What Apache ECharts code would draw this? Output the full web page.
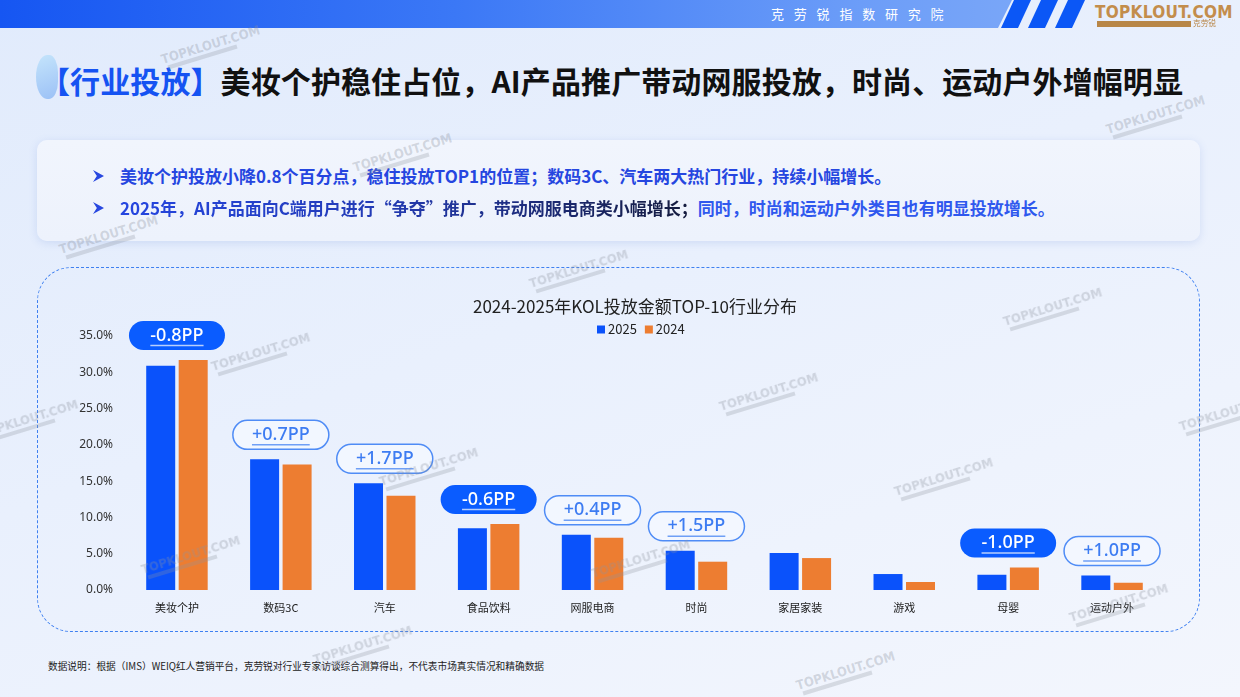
<!DOCTYPE html>
<html>
<head>
<meta charset="utf-8">
<script src="https://cdn.jsdelivr.net/npm/echarts@6/dist/echarts.min.js"></script>
<style>
  html,body{margin:0;padding:0;}
  body{width:1240px;height:697px;overflow:hidden;position:relative;
    background:linear-gradient(160deg,#e1ebfc 0%,#e9f0fd 45%,#f3f6fd 100%);
    font-family:"Noto Sans CJK SC","Noto Sans",sans-serif;}
  .hdr{position:absolute;left:0;top:0;width:1012px;height:28px;
    background:linear-gradient(90deg,#1656f2 0%,#3b78f6 45%,#6c9df8 85%,#79a6f8 100%);
    clip-path:polygon(0 0,1012px 0,998px 28px,0 28px);}
  .stripe{position:absolute;top:0;height:28px;width:30px;background:#0b57f6;
    clip-path:polygon(13px 0,30px 0,17px 28px,0 28px);}
  .hdrtxt{position:absolute;left:771px;top:5px;font-size:13px;letter-spacing:9.8px;color:#fff;line-height:18px;}
  .logo{position:absolute;left:1095px;top:2px;font-family:"DejaVu Sans Condensed","Liberation Sans Narrow",sans-serif;
    font-weight:bold;font-size:17px;color:#c38d4c;letter-spacing:0.3px;line-height:20px;}
  .logobar{position:absolute;left:1097px;top:21px;width:94px;height:6px;background:#b88647;}
  .logosub{position:absolute;left:1193px;top:19px;font-size:9px;color:#b88647;line-height:10px;transform:scale(0.85);transform-origin:left top;}
  .title{position:absolute;left:40px;top:58px;font-size:30px;font-weight:bold;color:#111;line-height:44px;white-space:nowrap;letter-spacing:0.1px;}
  .title .b{color:#1553f2;}
  .blob{position:absolute;left:36px;top:55px;width:22px;height:44px;border-radius:50% 40% 40% 50%;
    background:linear-gradient(160deg,#bfe3fb,#8fb9f5);opacity:0.85;}
  .box{position:absolute;left:37px;top:140px;width:1163px;height:101px;border-radius:10px;
    background:linear-gradient(180deg,#f1f5fd,#edf2fc);box-shadow:0 2px 8px rgba(90,130,210,0.18);}
  .bl{position:absolute;left:120px;font-size:17px;font-weight:bold;line-height:24px;white-space:nowrap;color:#2546e0;}
  .arr{position:absolute;left:93px;width:11px;height:12px;background:#2848e0;
    clip-path:polygon(0 0,100% 50%,0 100%,35% 50%);}
  .dark{background:linear-gradient(90deg,#2546e0 0%,#233bb5 45%,#141a3a 100%);-webkit-background-clip:text;background-clip:text;color:transparent;}
  .brt{color:#2f58ee;}
  .dash{position:absolute;left:37px;top:267px;width:1161px;height:363px;border:1.5px dashed #3f80f1;border-radius:34px;}
  #chart{position:absolute;left:37px;top:267px;width:1163px;height:365px;}
  .foot{position:absolute;left:48px;top:659px;font-size:9.7px;color:#222;line-height:14px;white-space:nowrap;}
  .wm{position:absolute;font-family:"DejaVu Sans Condensed",sans-serif;font-weight:bold;font-size:13px;color:rgba(140,146,158,0.32);
    transform:rotate(-17deg);transform-origin:center;white-space:nowrap;pointer-events:none;line-height:14px;}
  .wm i{display:block;width:72px;height:4px;margin-left:4px;background:rgba(140,146,158,0.28);}
</style>
</head>
<body>
<div class="hdr"></div>
<div class="stripe" style="left:1001px"></div>
<div class="stripe" style="left:1028px"></div>
<div class="stripe" style="left:1055px"></div>
<div class="hdrtxt">克劳锐指数研究院</div>
<div class="logo">TOPKLOUT.COM</div>
<div class="logobar"></div>
<div class="logosub">克劳锐</div>

<div class="blob"></div>
<div class="title"><span class="b">【行业投放】</span>美妆个护稳住占位，AI产品推广带动网服投放，时尚、运动户外增幅明显</div>

<div class="box"></div>
<div class="arr" style="top:170px"></div>
<div class="arr" style="top:202px"></div>
<div class="bl" style="top:164px">美妆个护投放小降0.8个百分点，稳住投放TOP1的位置；数码3C、汽车两大热门行业，持续小幅增长。</div>
<div class="bl" style="top:196px"><span class="dark">2025年，AI产品面向C端用户进行“争夺”推广，带动网服电商类小幅增长；</span><span class="brt">同时，时尚和运动户外类目也有明显投放增长。</span></div>

<div class="dash"></div>
<div id="chart"></div>

<div class="foot">数据说明：根据（IMS）WEIQ红人营销平台，克劳锐对行业专家访谈综合测算得出，不代表市场真实情况和精确数据</div>

<div id="wms"></div>

<script>
// ---- data ----
const categories = ['美妆个护','数码3C','汽车','食品饮料','网服电商','时尚','家居家装','游戏','母婴','运动户外'];
const values2025 = [30.9, 18.0, 14.7, 8.5, 7.6, 5.4, 5.1, 2.2, 2.1, 2.0];
const values2024 = [31.7, 17.3, 13.0, 9.1, 7.2, 3.9, 4.4, 1.1, 3.1, 1.0];
const badgeLabels = ['-0.8PP','+0.7PP','+1.7PP','-0.6PP','+0.4PP','+1.5PP',null,null,'-1.0PP','+1.0PP'];
const seriesNames = ['2025','2024'];
const yMin = 0, yMax = 35, yInterval = 5;
const chartTitle = '2024-2025年KOL投放金额TOP-10行业分布';

// watermarks
const wmPos = [[160,38],[1105,108],[352,146],[58,228],[528,262],[1002,300],[210,345],[718,385],[378,460],[1178,405],[893,470],[140,548],[590,552],[1068,596],[312,638],[795,664],[-22,412]];
const wmHost = document.getElementById('wms');
wmPos.forEach(p=>{const d=document.createElement('div');d.className='wm';d.style.left=p[0]+'px';d.style.top=p[1]+'px';d.innerHTML='TOPKLOUT.COM<i></i>';wmHost.appendChild(d);});

const BLUE = '#0a52fb', ORANGE = '#ed7d31';
const badgeData = [];
categories.forEach((c,i)=>{ if(badgeLabels[i]) badgeData.push([i, Math.max(values2025[i], values2024[i]), badgeLabels[i]]); });

const mctx = document.createElement('canvas').getContext('2d');
const badgeFont = '500 18px "Noto Sans", sans-serif';
mctx.font = badgeFont;

const chart = echarts.init(document.getElementById('chart'), null, {renderer:'canvas'});
chart.setOption({
  animation:false,
  textStyle:{fontFamily:'"Noto Sans CJK SC","Noto Sans",sans-serif'},
  title:{text:chartTitle,left:593,top:26,textAlign:'center',
    textStyle:{fontSize:17,fontWeight:'normal',color:'#222',fontFamily:'"Noto Sans CJK SC","Noto Sans",sans-serif'}},
  legend:{data:seriesNames,left:555,top:51,itemWidth:8,itemHeight:8,itemGap:8,icon:'rect',
    textStyle:{fontSize:13,color:'#222',padding:[0,0,0,-2]}},
  grid:{left:88,right:36,top:69,bottom:42,containLabel:false},
  xAxis:{type:'category',data:categories,axisLine:{show:false},axisTick:{show:false},
    axisLabel:{fontSize:11,color:'#222',margin:12,interval:0}},
  yAxis:{type:'value',min:yMin,max:yMax,interval:yInterval,splitLine:{show:false},
    axisLine:{show:false},axisTick:{show:false},
    axisLabel:{fontSize:12,color:'#333',margin:12,formatter:v=>v.toFixed(1)+'%',fontFamily:'"Noto Sans",sans-serif'}},
  series:[
    {name:seriesNames[0],type:'bar',data:values2025,barWidth:29,barGap:'12%',itemStyle:{color:BLUE}},
    {name:seriesNames[1],type:'bar',data:values2024,barWidth:29,itemStyle:{color:ORANGE}},
    {name:'badges',type:'custom',data:badgeData.map(d=>[d[0],d[1]]),clip:false,z:10,
      renderItem:function(params,api){
        const d = badgeData[params.dataIndex];
        const pt = api.coord([api.value(0), api.value(1)]);
        const w = 96, h = 29;
        const cx = pt[0], cy = pt[1] - 10 - h/2;
        const neg = d[2].charAt(0) === '-';
        const tw = mctx.measureText(d[2]).width;
        return {type:'group',children:[
          {type:'rect',shape:{x:cx-w/2,y:cy-h/2,width:w,height:h,r:h/2},
            style:neg?{fill:'#0a5cff'}:{fill:'rgba(243,247,255,0.9)',stroke:'#4f8cf6',lineWidth:1.5}},
          {type:'text',style:{text:d[2],x:cx,y:cy,align:'center',verticalAlign:'middle',font:badgeFont,
            fill:neg?'#ffffff':'#3d7cf2'}},
          {type:'line',shape:{x1:cx-tw/2,y1:cy+10,x2:cx+tw/2,y2:cy+10},
            style:{stroke:neg?'#b8cffd':'#6f9ff6',lineWidth:1.5}}
        ]};
      }}
  ]
});
</script>
</body>
</html>
